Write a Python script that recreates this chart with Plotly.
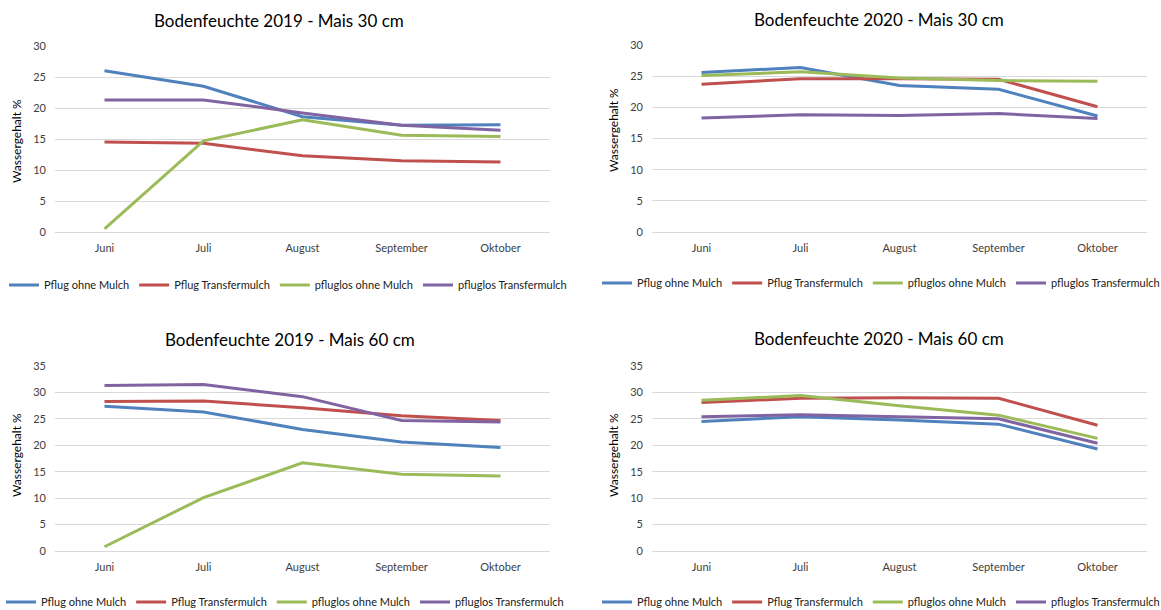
import plotly.graph_objects as go

months = ["Juni", "Juli", "August", "September", "Oktober"]
series_names = ["Pflug ohne Mulch", "Pflug Transfermulch", "pfluglos ohne Mulch", "pfluglos Transfermulch"]
colors = ["#4F81BD", "#C0504D", "#9BBB59", "#8064A2"]

titles = ["Bodenfeuchte 2019 - Mais 30 cm", "Bodenfeuchte 2020 - Mais 30 cm",
          "Bodenfeuchte 2019 - Mais 60 cm", "Bodenfeuchte 2020 - Mais 60 cm"]
y_title = "Wassergehalt %"

# 2019 – 30 cm
p19_30_pflug_ohne = [26.0, 23.5, 18.6, 17.2, 17.3]
p19_30_pflug_trans = [14.5, 14.3, 12.3, 11.5, 11.3]
p19_30_los_ohne = [0.5, 14.7, 18.1, 15.6, 15.4]
p19_30_los_trans = [21.3, 21.3, 19.2, 17.2, 16.4]

# 2020 – 30 cm
p20_30_pflug_ohne = [25.6, 26.4, 23.5, 22.9, 18.6]
p20_30_pflug_trans = [23.7, 24.6, 24.6, 24.5, 20.1]
p20_30_los_ohne = [25.1, 25.7, 24.7, 24.3, 24.2]
p20_30_los_trans = [18.3, 18.8, 18.7, 19.0, 18.2]

# 2019 – 60 cm
p19_60_pflug_ohne = [27.4, 26.3, 23.0, 20.6, 19.6]
p19_60_pflug_trans = [28.3, 28.4, 27.1, 25.6, 24.7]
p19_60_los_ohne = [0.8, 10.1, 16.7, 14.5, 14.2]
p19_60_los_trans = [31.3, 31.5, 29.2, 24.7, 24.4]

# 2020 – 60 cm
p20_60_pflug_ohne = [24.5, 25.4, 24.8, 24.0, 19.3]
p20_60_pflug_trans = [28.1, 28.9, 29.0, 28.9, 23.8]
p20_60_los_ohne = [28.5, 29.4, 27.5, 25.7, 21.3]
p20_60_los_trans = [25.4, 25.8, 25.4, 25.0, 20.4]

panels = [
    [p19_30_pflug_ohne, p19_30_pflug_trans, p19_30_los_ohne, p19_30_los_trans],
    [p20_30_pflug_ohne, p20_30_pflug_trans, p20_30_los_ohne, p20_30_los_trans],
    [p19_60_pflug_ohne, p19_60_pflug_trans, p19_60_los_ohne, p19_60_los_trans],
    [p20_60_pflug_ohne, p20_60_pflug_trans, p20_60_los_ohne, p20_60_los_trans],
]
y_max = [30, 30, 35, 35]

W, H = 1161, 610
FONT = "Lato"

# plot-area boxes in pixels: (left, right, top, bottom)
boxes = [(55, 550, 46, 232), (652, 1147, 45, 232), (55, 550, 366, 551), (652, 1147, 366, 551)]
title_pos = [(279, 20), (879, 19), (290, 339), (879, 338)]
ytitle_pos = [(16, 141), (613, 130), (16, 455), (613, 455)]
legend_pos = [(4, 285), (597, 283), (1, 602), (597, 602)]

fig = go.Figure()
layout = dict(
    width=W, height=H,
    margin=dict(l=0, r=0, t=0, b=0, pad=0, autoexpand=False),
    paper_bgcolor="white", plot_bgcolor="white",
    font=dict(family=FONT, size=11, color="#404040"),
    showlegend=True,
    annotations=[],
)

for i in range(4):
    sfx = "" if i == 0 else str(i + 1)
    xa, ya = "x" + sfx, "y" + sfx
    lg = "legend" + sfx
    for name, vals, col in zip(series_names, panels[i], colors):
        fig.add_trace(go.Scatter(
            x=months, y=vals, name=name, mode="lines",
            line=dict(color=col, width=3),
            xaxis=xa, yaxis=ya, legend=lg, showlegend=True,
        ))
    l, r, t, b = boxes[i]
    layout["xaxis" + sfx] = dict(
        domain=[l / W, r / W], anchor=ya, type="category",
        range=[-0.5, 4.5], showgrid=False, showline=False, zeroline=False,
        ticks="", tickfont=dict(size=11, color="#404040"), ticklabelstandoff=8,
    )
    layout["yaxis" + sfx] = dict(
        domain=[1 - b / H, 1 - t / H], anchor=xa,
        range=[0, y_max[i]], dtick=5, tick0=0,
        showgrid=True, gridcolor="#D9D9D9", gridwidth=1,
        zeroline=True, zerolinecolor="#D9D9D9", zerolinewidth=1,
        showline=False, ticks="", tickfont=dict(size=11, color="#404040"),
        ticklabelstandoff=8,
    )
    lx, ly = legend_pos[i]
    layout[lg] = dict(
        x=lx / W, y=1 - ly / H, xanchor="left", yanchor="middle",
        orientation="h", font=dict(size=11, color="#202020", family=FONT),
        bgcolor="rgba(0,0,0,0)", itemwidth=30, traceorder="normal",
    )
    tx, ty = title_pos[i]
    layout["annotations"].append(dict(
        text=titles[i], x=tx / W, y=1 - ty / H, xref="paper", yref="paper",
        xanchor="center", yanchor="middle", showarrow=False,
        font=dict(size=17, color="#000000", family=FONT),
    ))
    ax_, ay_ = ytitle_pos[i]
    layout["annotations"].append(dict(
        text=y_title, x=ax_ / W, y=1 - ay_ / H, xref="paper", yref="paper",
        xanchor="center", yanchor="middle", showarrow=False, textangle=-90,
        font=dict(size=12, color="#000000", family=FONT),
    ))

fig.update_layout(**layout)
fig.write_html(
    "out.html",
    config={"displayModeBar": False},
    post_script="document.body.style.margin='0';document.body.style.overflow='hidden';",
)
